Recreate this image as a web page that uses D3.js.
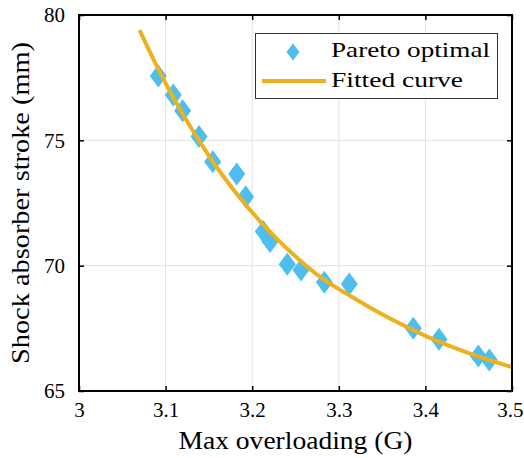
<!DOCTYPE html>
<html>
<head>
<meta charset="utf-8">
<script src="https://cdn.jsdelivr.net/npm/d3@7"></script>
<style>
  html, body { margin: 0; padding: 0; background: #fff; }
  svg { display: block; }
  text { font-family: "Liberation Serif", "Times New Roman", serif; fill: #000; }
</style>
</head>
<body>
<svg id="chart" width="524" height="458"></svg>
<script>
// Pareto front samples: max overloading (G) vs shock absorber stroke (mm)
const paretoX = [3.0916, 3.1089, 3.1197, 3.1386, 3.1544, 3.1821, 3.1925, 3.2128, 3.2206,
                 3.2405, 3.2564, 3.2833, 3.3121, 3.3860, 3.4157, 3.4611, 3.4738];
const paretoY = [77.57, 76.81, 76.18, 75.15, 74.15, 73.66, 72.75, 71.36, 70.96,
                 70.06, 69.83, 69.34, 69.27, 67.50, 67.06, 66.40, 66.24];

// Fitted curve, sampled along its length
const fitX = [3.07, 3.09, 3.11, 3.13, 3.15, 3.17, 3.19, 3.21, 3.23, 3.25,
              3.28, 3.31, 3.34, 3.37, 3.40, 3.43, 3.46, 3.50];
const fitY = [79.40, 77.95, 76.64, 75.46, 74.38, 73.41, 72.53, 71.74, 71.02, 70.37,
              69.51, 68.86, 68.25, 67.70, 67.20, 66.77, 66.39, 65.95];

const xTicks = [3, 3.1, 3.2, 3.3, 3.4, 3.5];
const yTicks = [65, 70, 75, 80];
const seriesNames = ["Pareto optimal", "Fitted curve"];
const axisTitles = { x: "Max overloading (G)", y: "Shock absorber stroke (mm)" };

const blue = "#4DBEEE";
const gold = "#EDB120";

const svg = d3.select("#chart");
const plot = { left: 79, right: 512, top: 15, bottom: 391 };

const x = d3.scaleLinear().domain([3, 3.5]).range([plot.left, plot.right]);
const y = d3.scaleLinear().domain([65, 80]).range([plot.bottom, plot.top]);

// grid lines
const grid = svg.append("g").attr("stroke", "#e2e2e2").attr("stroke-width", 1);
grid.selectAll(".gx").data(xTicks.slice(1, -1)).join("line")
  .attr("x1", d => x(d)).attr("x2", d => x(d))
  .attr("y1", plot.top).attr("y2", plot.bottom);
grid.selectAll(".gy").data(yTicks.slice(1, -1)).join("line")
  .attr("x1", plot.left).attr("x2", plot.right)
  .attr("y1", d => y(d)).attr("y2", d => y(d));

// diamond markers
const diamond = (w, h) => `M0,${-h}L${w},0L0,${h}L${-w},0Z`;
svg.append("g").selectAll("path").data(paretoX.map((d, i) => [d, paretoY[i]])).join("path")
  .attr("d", diamond(8.5, 11.5))
  .attr("transform", d => `translate(${x(d[0])},${y(d[1])})`)
  .attr("fill", blue);

// fitted curve
const line = d3.line().x(d => x(d[0])).y(d => y(d[1])).curve(d3.curveNatural);
svg.append("path")
  .datum(fitX.map((d, i) => [d, fitY[i]]))
  .attr("d", line)
  .attr("fill", "none")
  .attr("stroke", gold)
  .attr("stroke-width", 4);

// axes with inward ticks on all four sides
const tickLen = 5;
const styleAxis = g => {
  g.select(".domain").remove();
  g.selectAll(".tick line").attr("stroke", "#000").attr("stroke-width", 1.5);
};
svg.append("g").attr("transform", `translate(0,${plot.bottom})`)
  .call(d3.axisBottom(x).tickValues(xTicks).tickSize(-tickLen).tickPadding(10).tickFormat(d3.format("")))
  .call(styleAxis)
  .call(g => g.selectAll("text").attr("font-size", 21).attr("font-family", "Liberation Serif").attr("dy", "0.76em").attr("y", 10))
  // keep the last label inside the page edge
  .call(g => g.selectAll(".tick").filter(d => d === 3.5).select("text").attr("text-anchor", "end").attr("x", 11));
svg.append("g").attr("transform", `translate(0,${plot.top})`)
  .call(d3.axisTop(x).tickValues(xTicks).tickSize(-tickLen).tickFormat(""))
  .call(styleAxis);
svg.append("g").attr("transform", `translate(${plot.left},0)`)
  .call(d3.axisLeft(y).tickValues(yTicks).tickSize(-tickLen).tickPadding(14).tickFormat(d3.format("")))
  .call(styleAxis)
  .call(g => g.selectAll("text").attr("font-size", 21).attr("font-family", "Liberation Serif"));
svg.append("g").attr("transform", `translate(${plot.right},0)`)
  .call(d3.axisRight(y).tickValues(yTicks).tickSize(-tickLen).tickFormat(""))
  .call(styleAxis);

// axis box
svg.append("rect")
  .attr("x", plot.left).attr("y", plot.top)
  .attr("width", plot.right - plot.left).attr("height", plot.bottom - plot.top)
  .attr("fill", "none").attr("stroke", "#000").attr("stroke-width", 2);

// axis titles
svg.append("text")
  .attr("x", (plot.left + plot.right) / 2).attr("y", 449)
  .attr("text-anchor", "middle").attr("font-size", 25)
  .attr("textLength", 234).attr("lengthAdjust", "spacingAndGlyphs")
  .text(axisTitles.x);
svg.append("text")
  .attr("transform", `translate(29,${(plot.top + plot.bottom) / 2}) rotate(-90)`)
  .attr("text-anchor", "middle").attr("font-size", 25)
  .attr("textLength", 322).attr("lengthAdjust", "spacingAndGlyphs")
  .text(axisTitles.y);

// legend
const legend = svg.append("g");
legend.append("rect")
  .attr("x", 255.5).attr("y", 33.5).attr("width", 242).attr("height", 65)
  .attr("fill", "#fff").attr("stroke", "#333").attr("stroke-width", 1);
legend.append("path")
  .attr("d", diamond(6.5, 8.5))
  .attr("transform", "translate(293,52)")
  .attr("fill", blue);
legend.append("line")
  .attr("x1", 262).attr("x2", 326).attr("y1", 81).attr("y2", 81)
  .attr("stroke", gold).attr("stroke-width", 4);
legend.selectAll("text.lbl").data(seriesNames).join("text")
  .attr("class", "lbl")
  .attr("x", 331).attr("y", (d, i) => 57 + i * 30)
  .attr("font-size", 21)
  .attr("textLength", (d, i) => i === 0 ? 159 : 132)
  .attr("lengthAdjust", "spacingAndGlyphs")
  .text(d => d);
</script>
</body>
</html>
